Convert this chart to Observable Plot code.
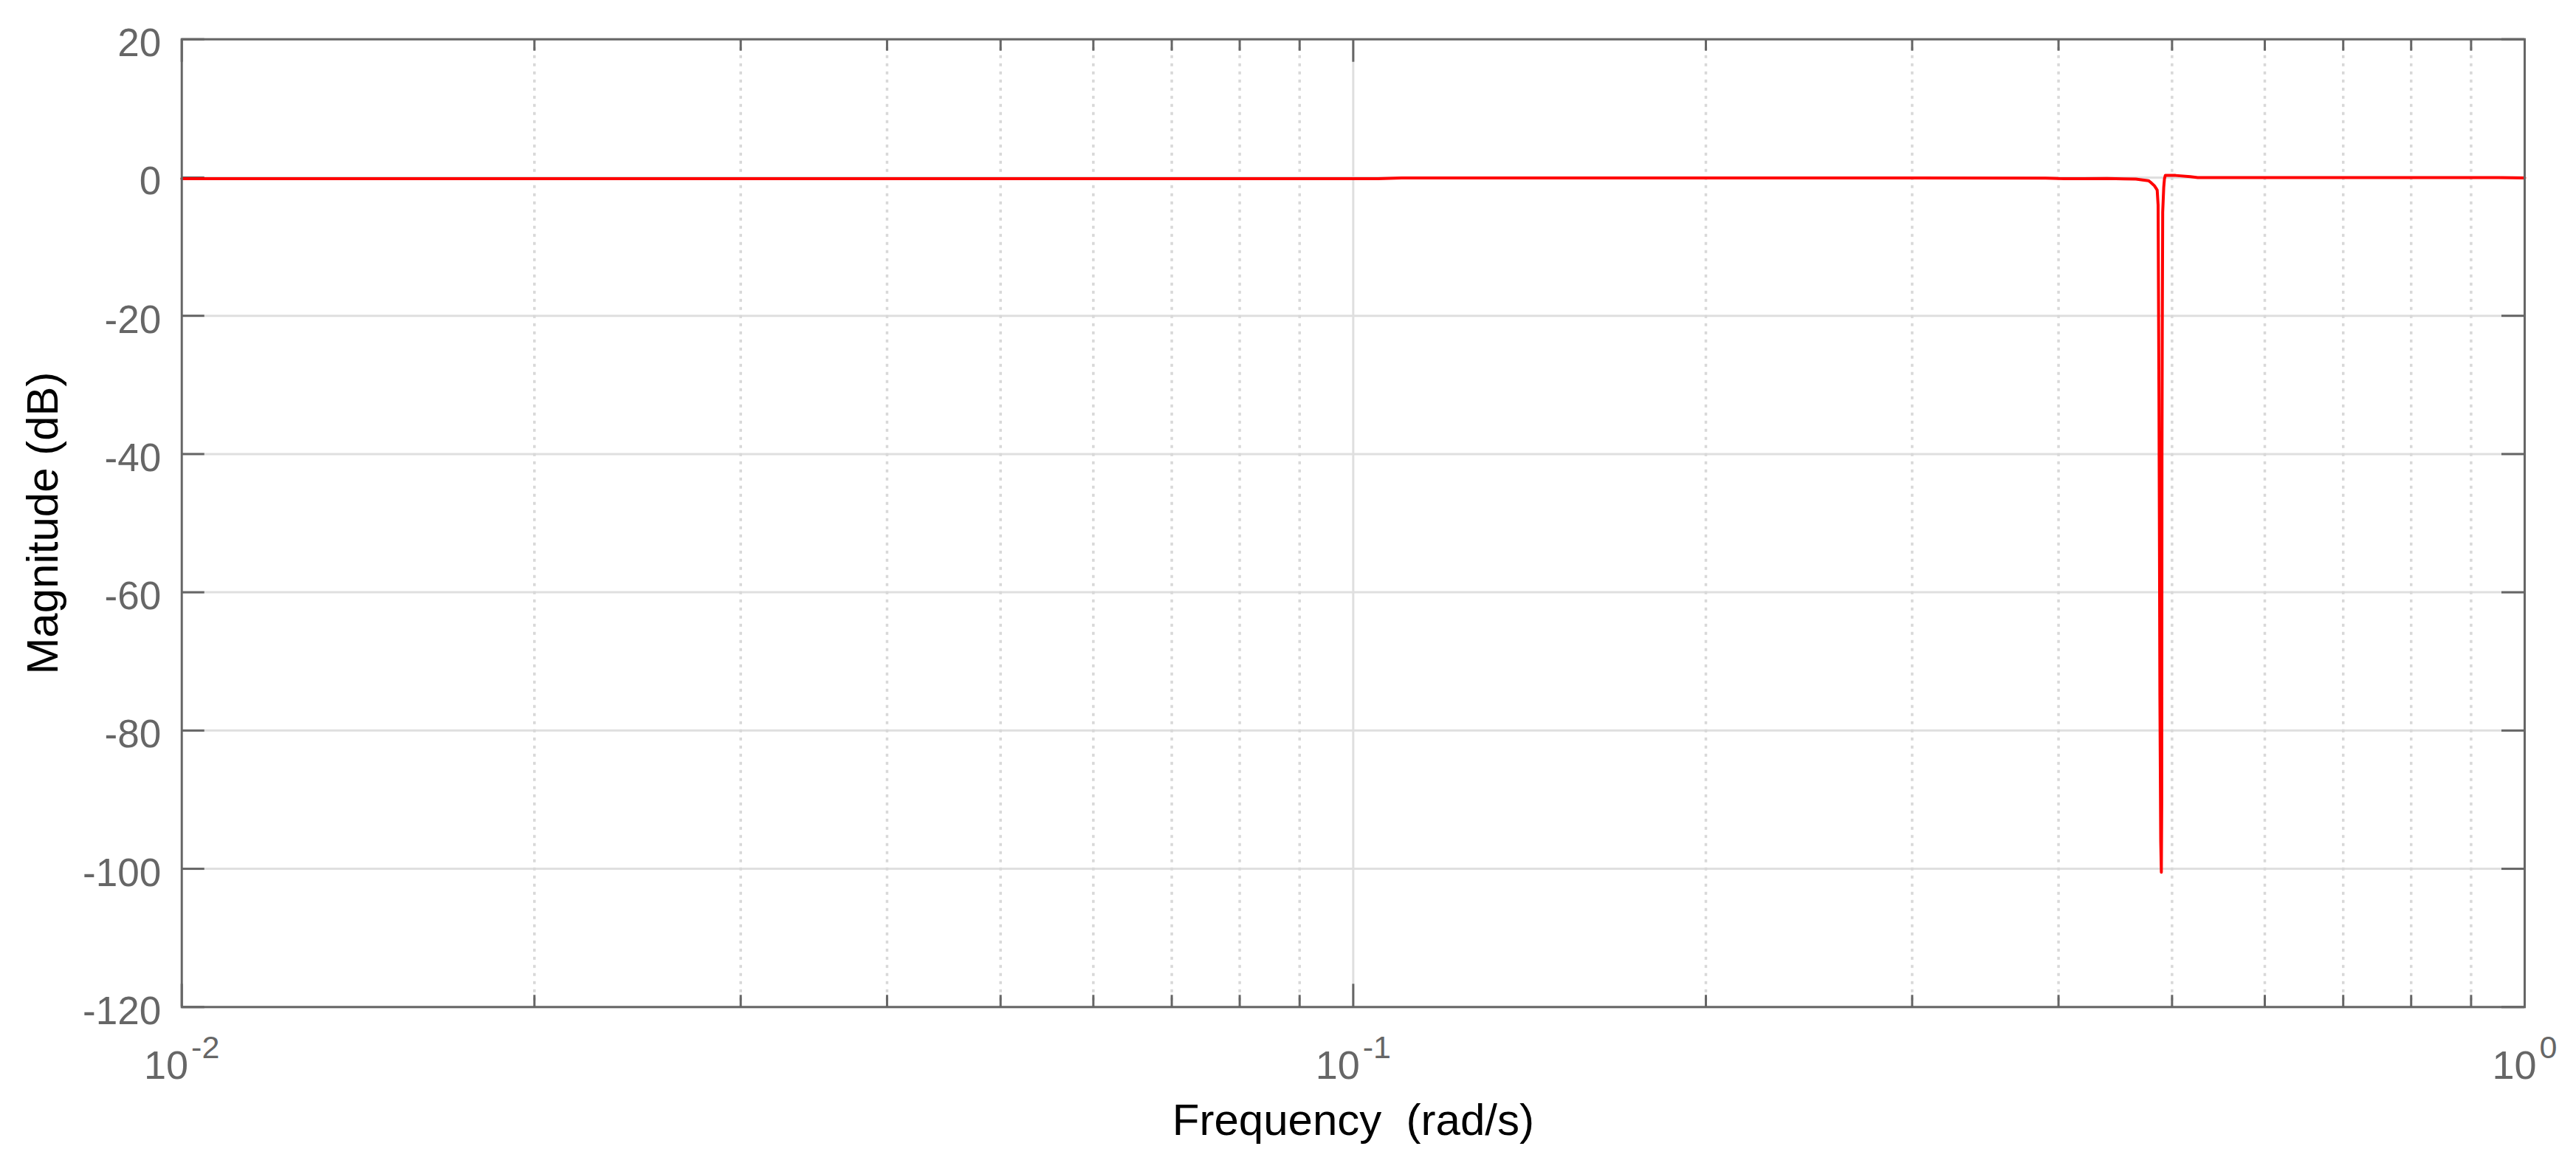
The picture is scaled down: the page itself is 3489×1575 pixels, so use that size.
<!DOCTYPE html>
<html>
<head>
<meta charset="utf-8">
<script src="https://cdn.jsdelivr.net/npm/d3@7"></script>
<script src="https://cdn.jsdelivr.net/npm/@observablehq/plot@0.6"></script>
<style>
html, body { margin: 0; padding: 0; background: #ffffff; }
</style>
</head>
<body>
<div id="chart"></div>
<script>
// ---- data ----
const freq = [0.01, 0.02, 0.05, 0.105, 0.11, 0.2, 0.3, 0.39, 0.40, 0.42, 0.44, 0.455, 0.4657, 0.472, 0.4774,
  0.4795, 0.4830, 0.4856, 0.4865, 0.4873, 0.4878, 0.4882, 0.4890, 0.4896, 0.4900, 0.4902, 0.4905, 0.4909,
  0.4919, 0.4926, 0.4934, 0.5035, 0.5183, 0.5259, 0.7, 0.95, 1.0];
const magDb = [-0.18, -0.18, -0.18, -0.18, -0.07, -0.07, -0.07, -0.08, -0.15, -0.18, -0.15, -0.2, -0.23, -0.35, -0.45,
  -0.7, -1.2, -1.8, -4, -32, -54, -75, -96, -100.5, -90, -40, -22, -5,
  -1.4, -0.2, 0.3, 0.3, 0.12, 0, 0, 0, -0.05];

const yTicks = [-120, -100, -80, -60, -40, -20, 0, 20];
const xMajorTicks = [0.01, 0.1, 1];
const xMinorTicks = [0.02, 0.03, 0.04, 0.05, 0.06, 0.07, 0.08, 0.09, 0.2, 0.3, 0.4, 0.5, 0.6, 0.7, 0.8, 0.9];
const xTickLabels = ["10^-2", "10^-1", "10^0"];
const xLabel = "Frequency\u00a0 (rad/s)";
const yLabel = "Magnitude (dB)";

// ---- layout ----
const W = 3489, H = 1575;
const mL = 245.7, mR = 70, mT = 52.7, mB = 211.7;
const innerH = H - mT - mB, innerW = W - mL - mR;
const axisColor = "#666666";
const data = freq.map((f, i) => ({f, m: magDb[i]}));

const chart = Plot.plot({
  width: W, height: H,
  marginLeft: mL, marginRight: mR, marginTop: mT, marginBottom: mB,
  style: {fontFamily: "'Liberation Sans', Arial, Helvetica, sans-serif", background: "#ffffff", overflow: "visible"},
  x: {type: "log", domain: [0.01, 1]},
  y: {domain: [-120, 20]},
  marks: [
    Plot.ruleY(yTicks, {stroke: "#dfdfdf", strokeWidth: 3}),
    Plot.ruleX(xMinorTicks, {stroke: "#d8d8d8", strokeWidth: 3.5, strokeDasharray: "4,7"}),
    Plot.ruleX([0.1], {stroke: "#dfdfdf", strokeWidth: 3}),
    Plot.ruleX(xMinorTicks, {stroke: axisColor, strokeWidth: 3, insetBottom: innerH - 16}),
    Plot.ruleX(xMinorTicks, {stroke: axisColor, strokeWidth: 3, insetTop: innerH - 16}),
    Plot.ruleX(xMajorTicks, {stroke: axisColor, strokeWidth: 3, insetBottom: innerH - 31}),
    Plot.ruleX(xMajorTicks, {stroke: axisColor, strokeWidth: 3, insetTop: innerH - 31}),
    Plot.ruleY(yTicks, {stroke: axisColor, strokeWidth: 3, insetRight: innerW - 31}),
    Plot.ruleY(yTicks, {stroke: axisColor, strokeWidth: 3, insetLeft: innerW - 31}),
    Plot.line(data, {x: "f", y: "m", stroke: "#ff0000", strokeWidth: 4}),
    Plot.frame({stroke: axisColor, strokeWidth: 3}),
    Plot.axisY({ticks: yTicks, tickSize: 0, tickPadding: 28, tickFormat: d => String(d),
      fontSize: 53, color: axisColor, dy: 6, label: null}),
    Plot.axisX({ticks: xMajorTicks, tickSize: 0, tickPadding: 59,
      tickFormat: d => xTickLabels[xMajorTicks.indexOf(d)],
      fontSize: 54, color: axisColor, label: null}),
    Plot.text([xLabel], {frameAnchor: "bottom", textAnchor: "middle", lineAnchor: "top", dy: 131, fontSize: 60, fill: "#000000"}),
    Plot.text([yLabel], {frameAnchor: "left", textAnchor: "middle", rotate: -90, lineAnchor: "top", dx: -211, fontSize: 60, fill: "#000000"})
  ]
});

// superscript exponents on the x tick labels
chart.querySelectorAll('g[aria-label="x-axis tick label"] text').forEach(t => {
  const s = t.textContent;
  const parts = s.split("^");
  if (parts.length !== 2) return;
  t.textContent = parts[0];
  const ts = document.createElementNS("http://www.w3.org/2000/svg", "tspan");
  ts.setAttribute("dy", "-28");
  ts.setAttribute("dx", "4");
  ts.setAttribute("font-size", "43");
  ts.textContent = parts[1];
  t.appendChild(ts);
});

document.getElementById("chart").appendChild(chart);
</script>
</body>
</html>
